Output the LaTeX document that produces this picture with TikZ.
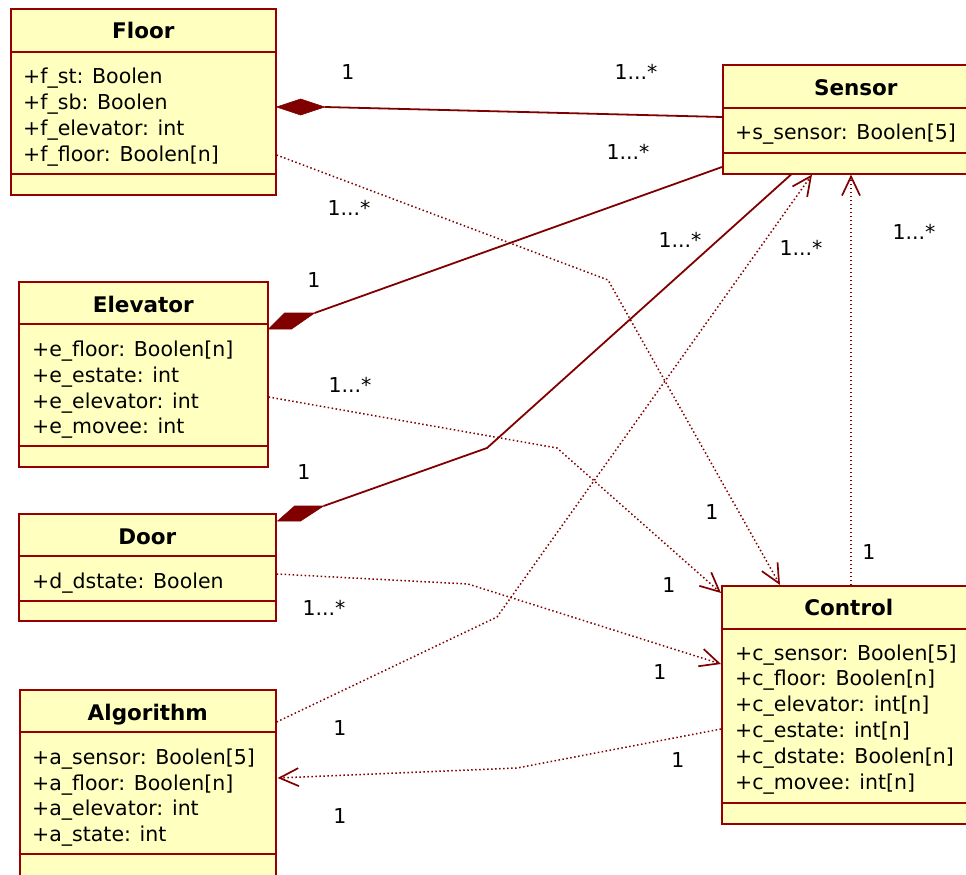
\documentclass[tikz,border=0pt]{standalone}
\usepackage{fontspec}
\setmainfont{DejaVu Sans}
\usetikzlibrary{arrows.meta,calc}
\definecolor{umlline}{RGB}{128,0,0}
\definecolor{umlborder}{RGB}{150,0,0}
\definecolor{umlfill}{RGB}{255,255,192}
\begin{document}
\begin{tikzpicture}[x=1pt,y=-1pt,
  classbox/.style={draw=umlborder, fill=umlfill, line width=1.6pt, rectangle, inner sep=0pt, anchor=north west},
  compsep/.style={draw=umlborder, line width=1.6pt},
  classname/.style={font=\fontsize{21.5}{24}\selectfont\bfseries, anchor=base, inner sep=0pt},
  attr/.style={font=\fontsize{20.5}{24}\selectfont, anchor=base west, inner sep=0pt},
  mult/.style={font=\fontsize{20.5}{24}\selectfont, anchor=base, inner sep=0pt},
  assoc/.style={draw=umlline, line width=1.8pt},
  diamondhead/.style={fill=umlline, draw=umlline, line width=0.6pt, line join=miter},
  depend/.style={draw=umlline, line width=1.5pt, dash pattern=on 1.5pt off 2.5pt,
    -{Straight Barb[length=19pt,width=18pt,line width=1.7pt]}}
]
\useasboundingbox (0,0) rectangle (966,875);
\clip (0,0) rectangle (966,875);

% ---------- Floor ----------
\node[classbox, minimum width=265pt, minimum height=186pt] (floor) at (10,8) {};
\draw[compsep] ($(floor.north west)+(0,44)$) -- ++(267,0);
\draw[compsep] ($(floor.north west)+(0,166)$) -- ++(267,0);
\node[classname] (floorT) at ($(floor.north)+(0,31)$) {Floor};
\node[attr] (floorA1) at ($(floor.north west)+(13,75)$) {+f\_st: Boolen};
\node[attr] (floorA2) at ($(floor.north west)+(13,101)$) {+f\_sb: Boolen};
\node[attr] (floorA3) at ($(floor.north west)+(13,127)$) {+f\_elevator: int};
\node[attr] (floorA4) at ($(floor.north west)+(13,153)$) {+f\_floor: Boolen[n]};

% ---------- Sensor ----------
\node[classbox, minimum width=266pt, minimum height=109pt] (sensor) at (722,64) {};
\draw[compsep] ($(sensor.north west)+(0,44)$) -- ++(268,0);
\draw[compsep] ($(sensor.north west)+(0,89)$) -- ++(268,0);
\node[classname] (sensorT) at ($(sensor.north)+(0,31)$) {Sensor};
\node[attr] (sensorA1) at ($(sensor.north west)+(13,75)$) {+s\_sensor: Boolen[5]};

% ---------- Elevator ----------
\node[classbox, minimum width=249pt, minimum height=185pt] (elev) at (18,281) {};
\draw[compsep] ($(elev.north west)+(0,43)$) -- ++(251,0);
\draw[compsep] ($(elev.north west)+(0,165)$) -- ++(251,0);
\node[classname] (elevT) at ($(elev.north)+(0,31)$) {Elevator};
\node[attr] (elevA1) at ($(elev.north west)+(14,75)$) {+e\_floor: Boolen[n]};
\node[attr] (elevA2) at ($(elev.north west)+(14,101)$) {+e\_estate: int};
\node[attr] (elevA3) at ($(elev.north west)+(14,127)$) {+e\_elevator: int};
\node[attr] (elevA4) at ($(elev.north west)+(14,152)$) {+e\_movee: int};

% ---------- Door ----------
\node[classbox, minimum width=257pt, minimum height=107pt] (door) at (18,513) {};
\draw[compsep] ($(door.north west)+(0,43)$) -- ++(259,0);
\draw[compsep] ($(door.north west)+(0,88)$) -- ++(259,0);
\node[classname] (doorT) at ($(door.north)+(0,31)$) {Door};
\node[attr] (doorA1) at ($(door.north west)+(14,75)$) {+d\_dstate: Boolen};

% ---------- Algorithm ----------
\node[classbox, minimum width=256pt, minimum height=200pt] (algo) at (19,689) {};
\draw[compsep] ($(algo.north west)+(0,43)$) -- ++(258,0);
\draw[compsep] ($(algo.north west)+(0,165)$) -- ++(258,0);
\node[classname] (algoT) at ($(algo.north)+(0,31)$) {Algorithm};
\node[attr] (algoA1) at ($(algo.north west)+(13,75)$) {+a\_sensor: Boolen[5]};
\node[attr] (algoA2) at ($(algo.north west)+(13,101)$) {+a\_floor: Boolen[n]};
\node[attr] (algoA3) at ($(algo.north west)+(13,126)$) {+a\_elevator: int};
\node[attr] (algoA4) at ($(algo.north west)+(13,152)$) {+a\_state: int};

% ---------- Control ----------
\node[classbox, minimum width=254pt, minimum height=238pt] (ctrl) at (721,585) {};
\draw[compsep] ($(ctrl.north west)+(0,44)$) -- ++(256,0);
\draw[compsep] ($(ctrl.north west)+(0,218)$) -- ++(256,0);
\node[classname] (ctrlT) at ($(ctrl.north)+(0,30)$) {Control};
\node[attr] (ctrlA1) at ($(ctrl.north west)+(14,75)$) {+c\_sensor: Boolen[5]};
\node[attr] (ctrlA2) at ($(ctrl.north west)+(14,100.8)$) {+c\_floor: Boolen[n]};
\node[attr] (ctrlA3) at ($(ctrl.north west)+(14,126.6)$) {+c\_elevator: int[n]};
\node[attr] (ctrlA4) at ($(ctrl.north west)+(14,152.4)$) {+c\_estate: int[n]};
\node[attr] (ctrlA5) at ($(ctrl.north west)+(14,178.2)$) {+c\_dstate: Boolen[n]};
\node[attr] (ctrlA6) at ($(ctrl.north west)+(14,204)$) {+c\_movee: int[n]};

% ---------- attachment points ----------
\coordinate (floorComp) at ($(floor.north east)+(0,99)$);
\coordinate (floorDep)  at ($(floor.north east)+(0,147)$);
\coordinate (elevComp)  at ($(elev.north east)+(0,48)$);
\coordinate (elevDep)   at ($(elev.north east)+(0,116)$);
\coordinate (doorComp)  at ($(door.north east)+(1,8)$);
\coordinate (doorDep)   at ($(door.north east)+(0,61)$);
\coordinate (algoOut)   at ($(algo.north east)+(0,33)$);
\coordinate (algoIn)    at ($(algo.north east)+(1,89)$);
\coordinate (sensorW1)  at ($(sensor.north west)+(0,53)$);
\coordinate (sensorW2)  at ($(sensor.north west)+(0,103)$);
\coordinate (sensorS1)  at ($(sensor.south west)+(69,0)$);
\coordinate (sensorS2)  at ($(sensor.south west)+(90,0)$);
\coordinate (sensorS3)  at ($(sensor.south west)+(129,0)$);
\coordinate (ctrlN1)    at ($(ctrl.north west)+(59,0)$);
\coordinate (ctrlN2)    at ($(ctrl.north west)+(130,0)$);
\coordinate (ctrlW1)    at ($(ctrl.north west)+(0,8)$);
\coordinate (ctrlW2)    at ($(ctrl.north west)+(0,79)$);
\coordinate (ctrlW3)    at ($(ctrl.north west)+(0,144)$);

% ---------- compositions (filled diamonds) ----------
\filldraw[diamondhead] (floorComp) -- ++(24,-8) -- ++(24,8) -- ++(-24,8) -- cycle;
\draw[assoc] ($(floorComp)+(48,0)$) -- (sensorW1);

\filldraw[diamondhead] (elevComp) -- ++(16,-16) -- ++(30,0) -- ++(-23,16) -- cycle;
\draw[assoc] ($(elevComp)+(46,-16)$) -- (sensorW2);

\filldraw[diamondhead] (doorComp) -- ++(17,-15) -- ++(29,0) -- ++(-23,15) -- cycle;
\draw[assoc] ($(doorComp)+(46,-15)$) -- (487,448) -- (sensorS1);

% ---------- dependencies (dotted, open arrows) ----------
\draw[depend] (floorDep) -- (608,280) -- (ctrlN1);
\draw[depend] (elevDep) -- (557,448) -- (ctrlW1);
\draw[depend] (doorDep) -- (468,584) -- (ctrlW2);
\draw[depend] (algoOut) -- (497,617) -- (sensorS2);
\draw[depend] (ctrlN2) -- (sensorS3);
\draw[depend] (ctrlW3) -- (517,768) -- (algoIn);

% ---------- multiplicities ----------
\node[mult] (m1)  at (348,79)  {1};
\node[mult] (m2)  at (636,79)  {1...*};
\node[mult] (m3)  at (628,159) {1...*};
\node[mult] (m4)  at (349,215) {1...*};
\node[mult] (m5)  at (314,287) {1};
\node[mult] (m6)  at (680,247) {1...*};
\node[mult] (m7)  at (801,255) {1...*};
\node[mult] (m8)  at (914,239) {1...*};
\node[mult] (m9)  at (350,392) {1...*};
\node[mult] (m10) at (304,479) {1};
\node[mult] (m11) at (712,519) {1};
\node[mult] (m12) at (869,559) {1};
\node[mult] (m13) at (669,592) {1};
\node[mult] (m14) at (324,615) {1...*};
\node[mult] (m15) at (660,679) {1};
\node[mult] (m16) at (340,735) {1};
\node[mult] (m17) at (678,767) {1};
\node[mult] (m18) at (340,823) {1};
\end{tikzpicture}
\end{document}
